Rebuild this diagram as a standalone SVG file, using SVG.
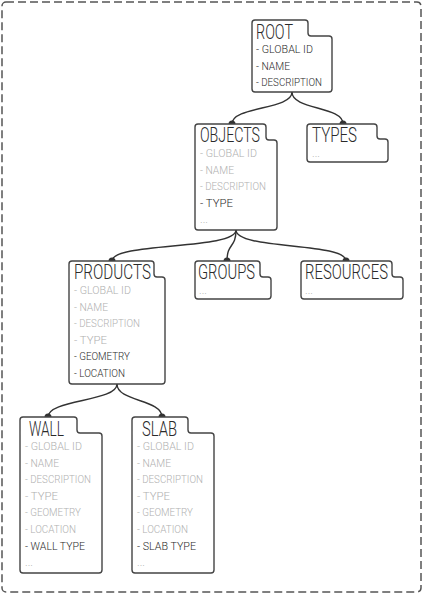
<svg xmlns="http://www.w3.org/2000/svg" width="423" height="594" viewBox="0 0 423 594">
<style>
.frame{fill:none;stroke:#555;stroke-width:1.5;stroke-dasharray:8 4}
.box{fill:#fff;stroke:#444;stroke-width:1.4;stroke-linejoin:round}
.h{font-family:Roboto,"DejaVu Sans",sans-serif;font-weight:300;font-size:19.5px;fill:#2a2a2a}
.i{font-family:Roboto,"DejaVu Sans",sans-serif;font-weight:300;font-size:11px;fill:#b0b0b0}
.d{fill:#2a2a2a}
.c{fill:none;stroke:#333;stroke-width:1.4}
.dot{fill:#333}
</style>
<rect class="frame" x="2" y="2" width="419" height="590" rx="4"/>
<g id="connectors">
<path class="c" d="M292,92 C292,110 232,106 232,124"/>
<path class="c" d="M292,92 C292,110 343,106 343,124"/>
<path class="c" d="M236,230 C236,250 112,242 112,261"/>
<path class="c" d="M236,230 C236,248 227,243 227,261"/>
<path class="c" d="M236,230 C236,250 346,242 346,261"/>
<path class="c" d="M117,384 C117,402 48,399 48,417"/>
<path class="c" d="M117,384 C117,402 162,399 162,417"/>
<circle class="dot" cx="232" cy="124" r="3.5"/>
<circle class="dot" cx="343" cy="124" r="3.5"/>
<circle class="dot" cx="112" cy="261" r="3.5"/>
<circle class="dot" cx="227" cy="261" r="3.5"/>
<circle class="dot" cx="346" cy="261" r="3.5"/>
<circle class="dot" cx="48" cy="417" r="3.5"/>
<circle class="dot" cx="162" cy="417" r="3.5"/>
</g>
<g id="root">
<path class="box" d="M255,20 H305 Q308,20 308,23 V33 Q308,36 311,36 H329 Q332,36 332,39 V89 Q332,92 329,92 H255 Q252,92 252,89 V23 Q252,20 255,20 Z"/>
<text class="h" x="256" y="38.5" textLength="37" lengthAdjust="spacingAndGlyphs">ROOT</text>
<text class="i d" x="256" y="53" textLength="57" lengthAdjust="spacingAndGlyphs">- GLOBAL ID</text>
<text class="i d" x="256" y="69.5" textLength="34" lengthAdjust="spacingAndGlyphs">- NAME</text>
<text class="i d" x="256" y="86" textLength="66" lengthAdjust="spacingAndGlyphs">- DESCRIPTION</text>
</g>
<g id="objects">
<path class="box" d="M198,124 H263 Q266,124 266,127 V137 Q266,140 269,140 H274 Q277,140 277,143 V227 Q277,230 274,230 H198 Q195,230 195,227 V127 Q195,124 198,124 Z"/>
<text class="h" x="200" y="142" textLength="60" lengthAdjust="spacingAndGlyphs">OBJECTS</text>
<text class="i" x="200" y="157" textLength="57" lengthAdjust="spacingAndGlyphs">- GLOBAL ID</text>
<text class="i" x="200" y="173.6" textLength="34" lengthAdjust="spacingAndGlyphs">- NAME</text>
<text class="i" x="200" y="190.2" textLength="66" lengthAdjust="spacingAndGlyphs">- DESCRIPTION</text>
<text class="i d" x="200" y="206.8" textLength="33" lengthAdjust="spacingAndGlyphs">- TYPE</text>
<text class="i" x="200" y="223.4">...</text>
</g>
<g id="types">
<path class="box" d="M310,124 H374 Q377,124 377,127 V136 Q377,139 380,139 H385 Q388,139 388,142 V159 Q388,162 385,162 H310 Q307,162 307,159 V127 Q307,124 310,124 Z"/>
<text class="h" x="312" y="142" textLength="45" lengthAdjust="spacingAndGlyphs">TYPES</text>
<text class="i" x="312" y="157">...</text>
</g>
<g id="products">
<path class="box" d="M72,261 H151 Q154,261 154,264 V274 Q154,277 157,277 H162 Q165,277 165,280 V381 Q165,384 162,384 H72 Q69,384 69,381 V264 Q69,261 72,261 Z"/>
<text class="h" x="74" y="279" textLength="77" lengthAdjust="spacingAndGlyphs">PRODUCTS</text>
<text class="i" x="74" y="294" textLength="57" lengthAdjust="spacingAndGlyphs">- GLOBAL ID</text>
<text class="i" x="74" y="310.6" textLength="34" lengthAdjust="spacingAndGlyphs">- NAME</text>
<text class="i" x="74" y="327.2" textLength="66" lengthAdjust="spacingAndGlyphs">- DESCRIPTION</text>
<text class="i" x="74" y="343.8" textLength="33" lengthAdjust="spacingAndGlyphs">- TYPE</text>
<text class="i d" x="74" y="360.4" textLength="56" lengthAdjust="spacingAndGlyphs">- GEOMETRY</text>
<text class="i d" x="74" y="377" textLength="51" lengthAdjust="spacingAndGlyphs">- LOCATION</text>
</g>
<g id="groups">
<path class="box" d="M198,261 H257 Q260,261 260,264 V274 Q260,277 263,277 H268 Q271,277 271,280 V296 Q271,299 268,299 H198 Q195,299 195,296 V264 Q195,261 198,261 Z"/>
<text class="h" x="198" y="279" textLength="57" lengthAdjust="spacingAndGlyphs">GROUPS</text>
<text class="i" x="199" y="294">...</text>
</g>
<g id="resources">
<path class="box" d="M304,261 H389 Q392,261 392,264 V274 Q392,277 395,277 H400 Q403,277 403,280 V296 Q403,299 400,299 H304 Q301,299 301,296 V264 Q301,261 304,261 Z"/>
<text class="h" x="305" y="279" textLength="83" lengthAdjust="spacingAndGlyphs">RESOURCES</text>
<text class="i" x="305" y="294">...</text>
</g>
<g id="wall">
<path class="box" d="M23,417 H74 Q77,417 77,420 V430 Q77,433 80,433 H99 Q102,433 102,436 V570 Q102,573 99,573 H23 Q20,573 20,570 V420 Q20,417 23,417 Z"/>
<text class="h" x="29" y="435.5" textLength="35" lengthAdjust="spacingAndGlyphs">WALL</text>
<text class="i" x="25" y="450" textLength="57" lengthAdjust="spacingAndGlyphs">- GLOBAL ID</text>
<text class="i" x="25" y="466.6" textLength="34" lengthAdjust="spacingAndGlyphs">- NAME</text>
<text class="i" x="25" y="483.2" textLength="66" lengthAdjust="spacingAndGlyphs">- DESCRIPTION</text>
<text class="i" x="25" y="499.8" textLength="33" lengthAdjust="spacingAndGlyphs">- TYPE</text>
<text class="i" x="25" y="516.4" textLength="56" lengthAdjust="spacingAndGlyphs">- GEOMETRY</text>
<text class="i" x="25" y="533" textLength="51" lengthAdjust="spacingAndGlyphs">- LOCATION</text>
<text class="i d" x="25" y="549.6" textLength="60" lengthAdjust="spacingAndGlyphs">- WALL TYPE</text>
<text class="i" x="25" y="566.2">...</text>
</g>
<g id="slab">
<path class="box" d="M135,417 H185 Q188,417 188,420 V430 Q188,433 191,433 H211 Q214,433 214,436 V570 Q214,573 211,573 H135 Q132,573 132,570 V420 Q132,417 135,417 Z"/>
<text class="h" x="142" y="435.5" textLength="35" lengthAdjust="spacingAndGlyphs">SLAB</text>
<text class="i" x="137" y="450" textLength="57" lengthAdjust="spacingAndGlyphs">- GLOBAL ID</text>
<text class="i" x="137" y="466.6" textLength="34" lengthAdjust="spacingAndGlyphs">- NAME</text>
<text class="i" x="137" y="483.2" textLength="66" lengthAdjust="spacingAndGlyphs">- DESCRIPTION</text>
<text class="i" x="137" y="499.8" textLength="33" lengthAdjust="spacingAndGlyphs">- TYPE</text>
<text class="i" x="137" y="516.4" textLength="56" lengthAdjust="spacingAndGlyphs">- GEOMETRY</text>
<text class="i" x="137" y="533" textLength="51" lengthAdjust="spacingAndGlyphs">- LOCATION</text>
<text class="i d" x="137" y="549.6" textLength="59" lengthAdjust="spacingAndGlyphs">- SLAB TYPE</text>
<text class="i" x="137" y="566.2">...</text>
</g>
</svg>
